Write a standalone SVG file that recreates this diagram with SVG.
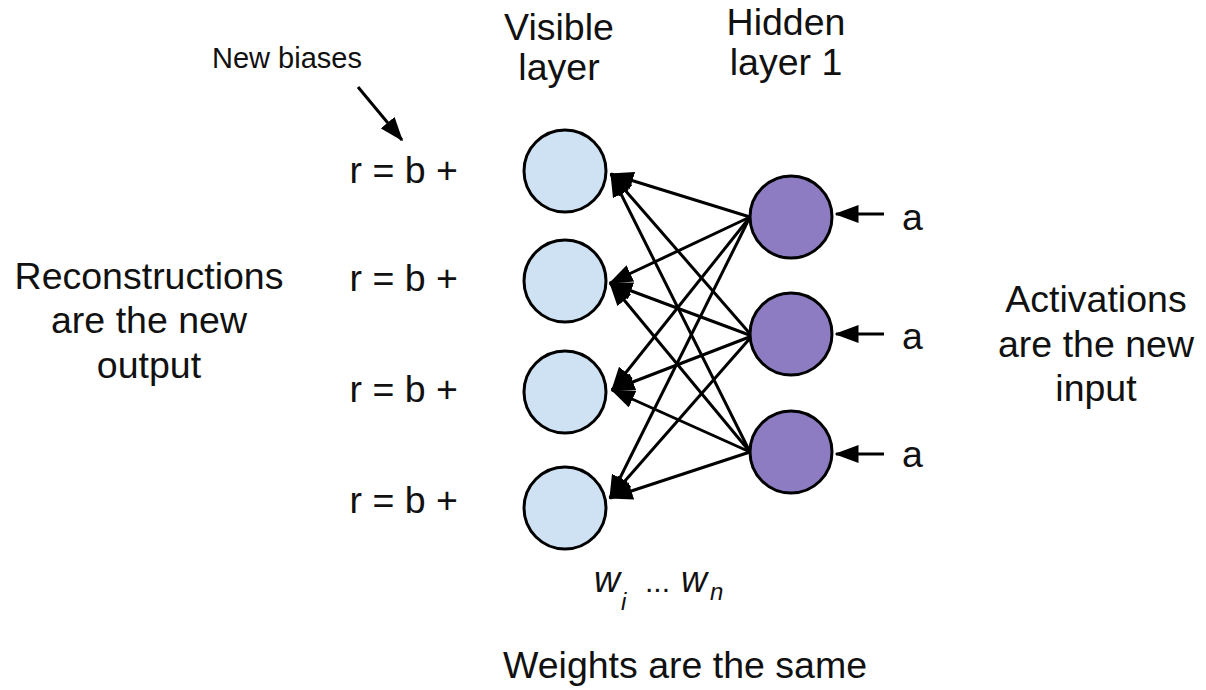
<svg xmlns="http://www.w3.org/2000/svg" width="1206" height="690" viewBox="0 0 1206 690">
<style>
text{font-family:"Liberation Sans",Arial,sans-serif;fill:#111}
.big{font-size:37.5px}
.vis{fill:#cfe2f3;stroke:#000;stroke-width:3}
.hid{fill:#8e7cc3;stroke:#000;stroke-width:3}
.edge{stroke:#000;stroke-width:3;fill:none;marker-end:url(#ah)}
.w{font-style:italic;font-size:36px}
.sub{font-style:italic;font-size:24px}
</style>
<defs>
<marker id="ah" markerWidth="8" markerHeight="6" refX="7.5" refY="3" orient="auto" markerUnits="strokeWidth">
<path d="M0,0 L8,3 L0,6 Z" fill="#000"/>
</marker>
</defs>
<rect width="1206" height="690" fill="#fff"/>
<g id="connectors">
<line class="edge" x1="750" y1="217" x2="611" y2="174"/>
<line class="edge" x1="750" y1="217" x2="610" y2="283"/>
<line class="edge" x1="750" y1="217" x2="612" y2="390"/>
<line class="edge" x1="750" y1="217" x2="610" y2="498"/>
<line class="edge" x1="752" y1="336" x2="611" y2="174"/>
<line class="edge" x1="752" y1="336" x2="610" y2="283"/>
<line class="edge" x1="752" y1="336" x2="612" y2="390"/>
<line class="edge" x1="752" y1="336" x2="610" y2="498"/>
<line class="edge" x1="750" y1="452" x2="611" y2="174"/>
<line class="edge" x1="750" y1="452" x2="610" y2="283"/>
<line class="edge" x1="750" y1="452" x2="612" y2="390"/>
<line class="edge" x1="750" y1="452" x2="610" y2="498"/>
<line class="edge" x1="884" y1="214" x2="836" y2="214"/>
<line class="edge" x1="884" y1="334" x2="836" y2="334"/>
<line class="edge" x1="884" y1="454" x2="836" y2="454"/>
<line class="edge" x1="358" y1="87" x2="402" y2="140"/>
</g>
<g id="v1"><circle class="vis" cx="565" cy="171" r="41"/></g>
<g id="v2"><circle class="vis" cx="565" cy="281" r="41"/></g>
<g id="v3"><circle class="vis" cx="565" cy="392" r="41"/></g>
<g id="v4"><circle class="vis" cx="565" cy="508" r="41"/></g>
<g id="h1"><circle class="hid" cx="791" cy="217" r="41"/></g>
<g id="h2"><circle class="hid" cx="791" cy="334" r="41"/></g>
<g id="h3"><circle class="hid" cx="791" cy="452" r="41"/></g>
<g id="labels">
<text class="big" x="559" y="40" text-anchor="middle">Visible</text>
<text class="big" x="559" y="80" text-anchor="middle">layer</text>
<text class="big" x="786" y="35" text-anchor="middle">Hidden</text>
<text class="big" x="786" y="75" text-anchor="middle">layer 1</text>
<text x="212" y="68" font-size="29">New biases</text>
<text class="big" x="458" y="183" text-anchor="end">r = b +</text>
<text class="big" x="458" y="291" text-anchor="end">r = b +</text>
<text class="big" x="458" y="402" text-anchor="end">r = b +</text>
<text class="big" x="458" y="513" text-anchor="end">r = b +</text>
<text class="big" x="149" y="289" text-anchor="middle">Reconstructions</text>
<text class="big" x="149" y="333" text-anchor="middle">are the new</text>
<text class="big" x="149" y="378" text-anchor="middle">output</text>
<text class="big" x="1096" y="312" text-anchor="middle">Activations</text>
<text class="big" x="1096" y="357" text-anchor="middle">are the new</text>
<text class="big" x="1096" y="401" text-anchor="middle">input</text>
<text class="big" x="902" y="230">a</text>
<text class="big" x="902" y="349">a</text>
<text class="big" x="902" y="467">a</text>
<text class="w" x="594" y="592">w</text>
<text class="sub" x="621" y="610">i</text>
<text x="645" y="592" font-size="30">...</text>
<text class="w" x="681" y="592">w</text>
<text class="sub" x="710" y="600">n</text>
<text class="big" x="503" y="678">Weights are the same</text>
</g>
</svg>
